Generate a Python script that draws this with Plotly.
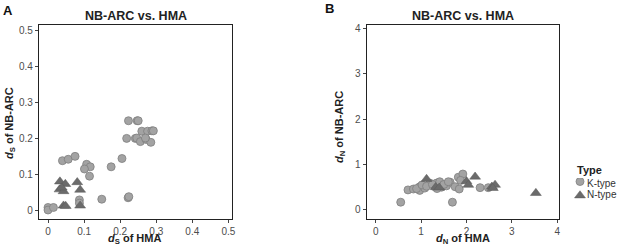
import plotly.graph_objects as go

# Panel A: dS
a_k_x = [0.223, 0.247, 0.250, 0.260, 0.276, 0.288, 0.218, 0.242, 0.246, 0.256, 0.272, 0.285,
         0.205, 0.175, 0.107, 0.117, 0.101, 0.115, 0.040, 0.056, 0.075, 0.149, 0.222, 0.224,
         0.087, 0.087, 0.0, 0.0, 0.015, 0.292, 0.270]
a_k_y = [0.248, 0.248, 0.248, 0.219, 0.219, 0.220, 0.199, 0.199, 0.200, 0.190, 0.196, 0.188,
         0.143, 0.120, 0.127, 0.120, 0.114, 0.094, 0.137, 0.141, 0.149, 0.030, 0.034, 0.037,
         0.028, 0.019, 0.007, 0.0, 0.007, 0.220, 0.200]
a_n_x = [0.033, 0.048, 0.081, 0.032, 0.043, 0.089, 0.043, 0.049, 0.089, 0.038]
a_n_y = [0.079, 0.072, 0.077, 0.057, 0.052, 0.056, 0.012, 0.011, 0.012, 0.062]

# Panel B: dN
b_k_x = [0.55, 1.69, 0.71, 0.83, 0.97, 0.97, 1.08, 1.19, 1.30, 1.34, 1.41, 1.45, 1.56, 1.64,
         1.75, 1.84, 1.82, 1.92, 1.87, 2.30, 2.48, 0.90, 1.02, 1.12, 1.25, 1.50, 1.60, 1.35]
b_k_y = [0.17, 0.17, 0.44, 0.46, 0.51, 0.43, 0.48, 0.59, 0.51, 0.59, 0.62, 0.50, 0.53, 0.61,
         0.51, 0.46, 0.72, 0.79, 0.65, 0.49, 0.49, 0.47, 0.55, 0.52, 0.56, 0.56, 0.62, 0.47]
b_n_x = [1.12, 2.00, 2.19, 2.04, 2.56, 2.63, 2.58, 3.53, 1.32, 1.40]
b_n_y = [0.68, 0.63, 0.73, 0.55, 0.51, 0.55, 0.48, 0.37, 0.50, 0.49]

legend_labels = ["K-type", "N-type"]
legend_title = "Type"

k_color = "#a3a3a3"
k_line = "#7f7f7f"
n_color = "#6b6b6b"

W, H = 617, 244
fig = go.Figure()

k_marker = dict(symbol="circle", size=8, color=k_color, line=dict(color=k_line, width=0.8))
n_marker = dict(symbol="triangle-up", size=9.5, color=n_color, line=dict(color="#5a5a5a", width=0.5))

def add(x, y, xa, ya, m, name):
    fig.add_trace(go.Scatter(x=x, y=y, mode="markers", marker=m, name=name,
                             xaxis=xa, yaxis=ya, showlegend=False, hoverinfo="x+y"))

add(a_k_x, a_k_y, "x", "y", k_marker, legend_labels[0])
add(a_n_x, a_n_y, "x", "y", n_marker, legend_labels[1])
add(b_k_x, b_k_y, "x2", "y2", k_marker, legend_labels[0])
add(b_n_x, b_n_y, "x2", "y2", n_marker, legend_labels[1])

# legend keys drawn on a hidden helper axis (top key, bottom key)
add([0.5], [1], "x3", "y3", k_marker, legend_labels[0])
add([0.5], [0], "x3", "y3", n_marker, legend_labels[1])

font = "Liberation Sans, Arial, sans-serif"
axcommon = dict(showline=True, mirror=True, linecolor="#222", linewidth=1.2, ticks="outside",
                ticklen=3, tickcolor="#444", showgrid=False, zeroline=False,
                tickfont=dict(size=10, color="#4d4d4d", family=font), automargin=False)

def px(x):
    return x / W

def py(y):
    return 1 - y / H

ybot, ytop = py(219), py(25)
A_L, A_R = 39, 232
B_L, B_R = 366.7, 559

fig.update_layout(
    width=W, height=H, margin=dict(l=0, r=0, t=0, b=0),
    paper_bgcolor="white", plot_bgcolor="white", showlegend=False,
    font=dict(family=font, color="#222"),
    xaxis=dict(domain=[px(A_L), px(A_R)], range=[-0.025, 0.51], tickvals=[0, 0.1, 0.2, 0.3, 0.4, 0.5],
               ticktext=["0", "0.1", "0.2", "0.3", "0.4", "0.5"], **axcommon),
    yaxis=dict(domain=[ybot, ytop], range=[-0.025, 0.514], tickvals=[0, 0.1, 0.2, 0.3, 0.4, 0.5],
               ticktext=["0", "0.1", "0.2", "0.3", "0.4", "0.5"], **axcommon),
    xaxis2=dict(domain=[px(B_L), px(B_R)], range=[-0.2, 4.04], tickvals=[0, 1, 2, 3, 4],
                anchor="y2", **axcommon),
    yaxis2=dict(domain=[ybot, ytop], range=[-0.2, 4.07], tickvals=[0, 1, 2, 3, 4],
                anchor="x2", **axcommon),
    xaxis3=dict(domain=[px(574), px(586)], range=[0, 1], visible=False, anchor="y3", fixedrange=True),
    yaxis3=dict(domain=[py(199), py(178)], range=[-0.25, 1.25], visible=False, anchor="x3", fixedrange=True),
)

ann = []
def text(t, x, y, size, color="#222", xanchor="center", angle=0):
    ann.append(dict(text=t, x=px(x), y=py(y), xref="paper", yref="paper", showarrow=False,
                    font=dict(size=size, color=color, family=font), xanchor=xanchor,
                    yanchor="middle", textangle=angle))

text("<b>NB-ARC vs. HMA</b>", (A_L + A_R) / 2, 16, 12.5)
text("<b>NB-ARC vs. HMA</b>", (B_L + B_R) / 2, 16, 12.5)
text("<b>A</b>", 1, 10, 13, "#111", "left")
text("<b>B</b>", 323, 9, 13, "#111", "left")
text("<b><i>d</i><sub>S</sub> of HMA</b>", (A_L + A_R) / 2 - 1, 238.5, 11)
text("<b><i>d</i><sub>N</sub> of HMA</b>", (B_L + B_R) / 2, 238.5, 11)
text("<b><i>d</i><sub>S</sub> of NB-ARC</b>", 10, 123, 11, angle=-90)
text("<b><i>d</i><sub>N</sub> of NB-ARC</b>", 340, 127, 11, angle=-90)
text("<b>" + legend_title + "</b>", 575, 170, 11, "#222", "left")
text(legend_labels[0], 585, 183, 10, "#333", "left")
text(legend_labels[1], 585, 194, 10, "#333", "left")
fig.update_layout(annotations=ann)

fig.write_html("out.html", config={"displayModeBar": False},
               post_script="document.body.style.margin='0';document.body.style.padding='0';")
